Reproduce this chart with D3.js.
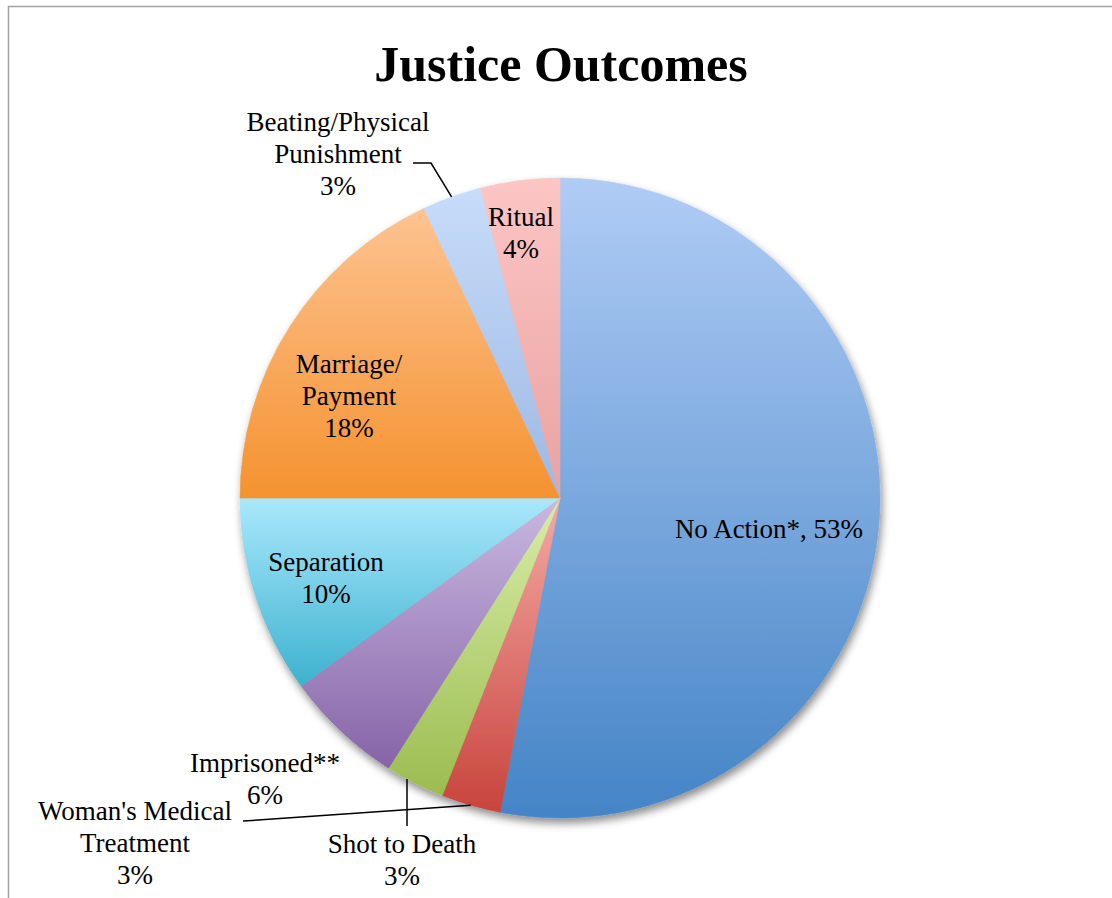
<!DOCTYPE html>
<html>
<head>
<meta charset="utf-8">
<script src="https://cdn.jsdelivr.net/npm/d3@7"></script>
<style>
  html, body { margin: 0; padding: 0; background: #fff; }
  svg { display: block; }
  text { font-family: "Liberation Serif", "Times New Roman", serif; fill: #000; }
</style>
</head>
<body>
<svg id="chart" width="1112" height="898"></svg>
<script>
// Justice outcomes, share of cases (%), clockwise from 12 o'clock
const categories = [
  "No Action*",
  "Woman's Medical Treatment",
  "Shot to Death",
  "Imprisoned**",
  "Separation",
  "Marriage/ Payment",
  "Beating/Physical Punishment",
  "Ritual"
];
const values = [53, 3, 3, 6, 10, 18, 3, 4];
// label line breaks
const labelLines = [
  ["No Action*, 53%"],
  ["Woman's Medical", "Treatment", "3%"],
  ["Shot to Death", "3%"],
  ["Imprisoned**", "6%"],
  ["Separation", "10%"],
  ["Marriage/", "Payment", "18%"],
  ["Beating/Physical", "Punishment", "3%"],
  ["Ritual", "4%"]
];
// slice gradient colours (top, bottom)
const topColors    = ["#b0ccf5", "#f5aaa5", "#d8eda8", "#c9b8e0", "#aae8fc", "#fdc391", "#c7dcf9", "#fcc6c5"];
const bottomColors = ["#4484c6", "#c8443d", "#9cbc50", "#8664a8", "#3db2cf", "#f5922f", "#9cb8e4", "#e8a2a1"];

const svg = d3.select("#chart");
const W = 1112, H = 898;
const cx = 560, cy = 498, R = 320;

// chart frame
svg.append("rect")
  .attr("x", 8.5).attr("y", 6.5)
  .attr("width", W + 20).attr("height", H + 20)
  .attr("fill", "none").attr("stroke", "#a3a3a3").attr("stroke-width", 1.5);

const defs = svg.append("defs");
const shadow = defs.append("filter").attr("id", "pieShadow")
  .attr("x", "-10%").attr("y", "-10%").attr("width", "125%").attr("height", "125%");
shadow.append("feDropShadow")
  .attr("dx", 2).attr("dy", 5).attr("stdDeviation", 4)
  .attr("flood-color", "#000").attr("flood-opacity", 0.45);

values.forEach((v, i) => {
  const g = defs.append("linearGradient").attr("id", "grad" + i)
    .attr("x1", 0).attr("y1", 0).attr("x2", 0).attr("y2", 1);
  g.append("stop").attr("offset", "0%").attr("stop-color", topColors[i]);
  g.append("stop").attr("offset", "100%").attr("stop-color", bottomColors[i]);
});

// title
svg.append("text")
  .attr("x", 561).attr("y", 81)
  .attr("text-anchor", "middle")
  .attr("font-size", 50).attr("font-weight", "bold")
  .text("Justice Outcomes");

const pie = d3.pie().sort(null).value(d => d);
const arcs = pie(values);
const arc = d3.arc().innerRadius(0).outerRadius(R);

const pieG = svg.append("g")
  .attr("transform", `translate(${cx},${cy})`)
  .attr("filter", "url(#pieShadow)");

pieG.selectAll("path.slice")
  .data(arcs)
  .join("path")
  .attr("class", "slice")
  .attr("d", arc)
  .attr("fill", (d, i) => `url(#grad${i})`)
  .attr("stroke", (d, i) => `url(#grad${i})`)
  .attr("stroke-width", 0.6);

// label placement: centre x and first baseline, plus optional leader path
const labelLayout = [
  { x: 769, y: 538 },
  { x: 135, y: 820, leader: [[243, 821], [258, 820]] },
  { x: 402, y: 853, leader: [[407, 826]] },
  { x: 265, y: 772 },
  { x: 326, y: 571 },
  { x: 349, y: 373 },
  { x: 338, y: 131, leader: [[413, 163], [431, 163]] },
  { x: 521, y: 226 }
];
const lineH = 32;

const labelG = svg.append("g");
arcs.forEach((a, i) => {
  const L = labelLayout[i];
  const t = labelG.append("text")
    .attr("text-anchor", "middle")
    .attr("font-size", 27);
  labelLines[i].forEach((s, k) => {
    t.append("tspan").attr("x", L.x).attr("y", L.y + k * lineH).text(s);
  });
  if (L.leader) {
    // leader runs from the label to the slice's outer edge at its mid-angle
    const mid = (a.startAngle + a.endAngle) / 2;
    const end = [cx + R * Math.sin(mid), cy - R * Math.cos(mid)];
    const pts = L.leader.slice();
    if (pts.length === 1) pts.push([pts[0][0], end[1] - 4]);
    else pts.push(end);
    labelG.append("path")
      .attr("d", d3.line()(pts))
      .attr("fill", "none").attr("stroke", "#000").attr("stroke-width", 1.5);
  }
});
</script>
</body>
</html>
